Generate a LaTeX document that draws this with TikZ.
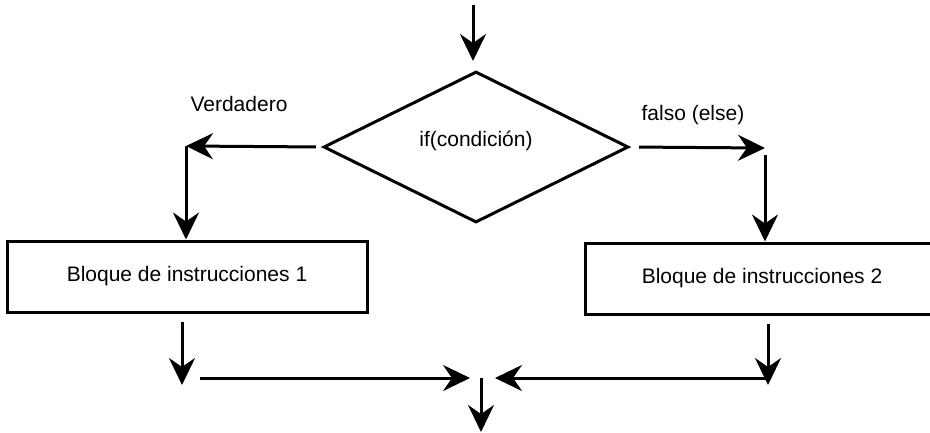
\documentclass[tikz,border=0pt]{standalone}
\usepackage{fontspec}
\setmainfont{Liberation Sans}
\usetikzlibrary{shapes.geometric,arrows.meta}
\begin{document}
\begin{tikzpicture}[x=1pt,y=-1pt,
  every node/.style={font=\fontsize{21}{25}\selectfont},
  ln/.style={line width=3pt},
  arr/.style={line width=3pt,-{Stealth[length=27pt,width=26pt,inset=9pt]}},
  cond/.style={diamond,draw,line width=3pt,minimum width=305pt,minimum height=151pt,inner sep=0pt,aspect=2},
  blk/.style={rectangle,draw,line width=3pt,minimum height=71pt,inner sep=0pt}]
\useasboundingbox (0,0) rectangle (930,432);
\clip (0,0) rectangle (930,432);
\fill[white] (0,0) rectangle (930,432);
\node[cond] (d) at (476,147) {};
\node at (476,141) (dt) {if(condición)};
\node[blk,minimum width=360pt] (b1) at (187,276.5) {Bloque de instrucciones 1};
\node[blk,minimum width=354pt] (b2) at (762,278.5) {Bloque de instrucciones 2};
\node (tv) at (239,104) {Verdadero};
\node (tf) at (693,115) {falso (else)};
\coordinate (s) at (473,5);
\coordinate (lc) at (186,146);
\coordinate (rc) at (765,148);
\coordinate (bl) at (182,385);
\coordinate (br) at (768,385);
\coordinate (m) at (481,378);
\coordinate (e) at (481,432);
\draw[arr,shorten >=9pt] (s) -- (s |- d.north);
\draw[arr,shorten <=6pt] (d.west) -- (lc);
\draw[arr] (lc) -- (lc |- b1.north);
\draw[arr,shorten <=9pt] (d.east) -- (rc);
\draw[arr,shorten <=7pt] (rc) -- (rc |- b2.north);
\draw[arr,shorten <=8pt] (b1.south -| bl) -- (bl);
\draw[arr,shorten <=8pt] (b2.south -| br) -- (br);
\draw[arr,shorten <=18pt,shorten >=11pt] (bl |- m) -- (m);
\draw[arr,shorten >=14pt] (br |- m) -- (m);
\draw[arr] (m) -- (e);
\end{tikzpicture}
\end{document}
